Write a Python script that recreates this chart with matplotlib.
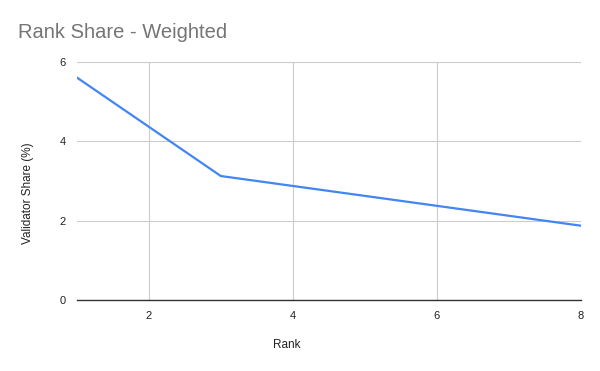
import matplotlib
matplotlib.use("Agg")
import matplotlib.pyplot as plt

# === Data ===
rank = [1, 2, 3, 4, 5, 6, 7, 8]
share = [5.60, 4.36, 3.12, 2.87, 2.62, 2.37, 2.12, 1.87]
x_ticks = [2, 4, 6, 8]
y_ticks = [0, 2, 4, 6]

plt.rcParams['font.family'] = ['Liberation Sans', 'DejaVu Sans']

fig = plt.figure(figsize=(6, 3.71), dpi=100, facecolor='white')
ax = fig.add_axes([0.128, 0.1914, 0.84, 0.6426])

ax.plot(rank, share, color='#4285F4', linewidth=1.6, solid_joinstyle='round')

ax.set_xlim(1, 8)
ax.set_ylim(0, 6)
ax.set_xticks(x_ticks)
ax.set_yticks(y_ticks)

# grid + axis styling (Google Sheets look)
ax.grid(True, color='#cccccc', linewidth=0.8)
ax.set_axisbelow(True)
for side in ['top', 'right', 'left']:
    ax.spines[side].set_visible(False)
ax.spines['bottom'].set_color('#333333')
ax.spines['bottom'].set_linewidth(1.0)
ax.tick_params(axis='both', length=0, labelsize=8, colors='#222222')
ax.tick_params(axis='x', pad=8)
ax.tick_params(axis='y', pad=8)

# titles
fig.text(18 / 600, 1 - 32 / 371, "Rank Share - Weighted", fontsize=14.5,
         color='#757575', va='center', ha='left')
fig.text(287 / 600, 1 - 345 / 371, "Rank", fontsize=8.5, color='#222222',
         ha='center', va='center')
fig.text(28 / 600, 1 - 193 / 371, "Validator Share (%)", fontsize=8.5,
         color='#222222', ha='center', va='center', rotation=90)

plt.savefig("out.png", dpi=100)
